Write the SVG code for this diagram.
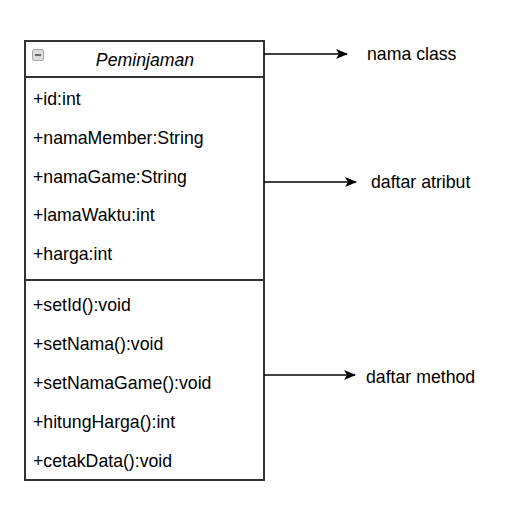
<svg xmlns="http://www.w3.org/2000/svg" width="508" height="505" viewBox="0 0 508 505">
<style>
text{font-family:"Liberation Sans",Arial,sans-serif;font-size:17.7px;fill:#000}
.box{fill:#fff;stroke:#333;stroke-width:2}
.ln{stroke:#000;stroke-width:1.5;fill:none}
</style>
<defs>
<marker id="ah" markerWidth="12" markerHeight="10" refX="11" refY="5" orient="auto" markerUnits="userSpaceOnUse">
<path d="M0,0 L12,5 L0,10 L3,5 Z" fill="#000"/>
</marker>
</defs>
<rect width="508" height="505" fill="#fff"/>
<g id="class-peminjaman">
<rect class="box" x="25" y="41" width="239" height="439"/>
<line class="box" x1="25" y1="77" x2="264" y2="77"/>
<line class="box" x1="25" y1="280" x2="264" y2="280"/>
<rect x="32.5" y="49.5" width="11" height="11" rx="1.5" fill="#dcdcdc" stroke="#aaa" stroke-width="1"/>
<line x1="35" y1="55" x2="41" y2="55" stroke="#444" stroke-width="1.5"/>
<text x="145" y="66" text-anchor="middle" font-style="italic">Peminjaman</text>
<text x="33" y="105">+id:int</text>
<text x="33" y="144">+namaMember:String</text>
<text x="33" y="183">+namaGame:String</text>
<text x="33" y="221">+lamaWaktu:int</text>
<text x="33" y="260">+harga:int</text>
<text x="33" y="311">+setId():void</text>
<text x="33" y="350">+setNama():void</text>
<text x="33" y="389">+setNamaGame():void</text>
<text x="33" y="428">+hitungHarga():int</text>
<text x="33" y="467">+cetakData():void</text>
</g>
<g id="connectors">
<line class="ln" x1="264" y1="54" x2="347" y2="54" marker-end="url(#ah)"/>
<line class="ln" x1="264" y1="182" x2="356" y2="182" marker-end="url(#ah)"/>
<line class="ln" x1="264" y1="375" x2="355" y2="375" marker-end="url(#ah)"/>
</g>
<g id="label-nama-class"><text x="367" y="60">nama class</text></g>
<g id="label-daftar-atribut"><text x="371" y="188">daftar atribut</text></g>
<g id="label-daftar-method"><text x="366" y="383">daftar method</text></g>
</svg>
